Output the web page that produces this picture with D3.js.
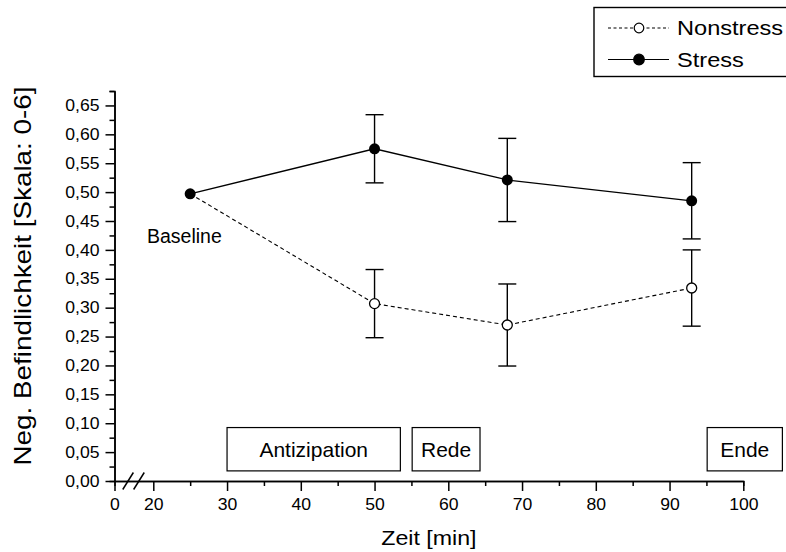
<!DOCTYPE html>
<html>
<head>
<meta charset="utf-8">
<script src="https://cdn.jsdelivr.net/npm/d3@7"></script>
<style>
  body { margin: 0; background: #fff; }
  svg { display: block; font-family: "Liberation Sans", Arial, sans-serif; }
</style>
</head>
<body>
<div id="chart"></div>
<script>
// Zeitpunkte (min) und Mittelwerte mit Standardfehler
const times = [25, 50, 68, 93];
const stressMean = [0.497, 0.575, 0.521, 0.485];
const stressErr = [0, 0.059, 0.072, 0.066];
const nonstressMean = [0.497, 0.307, 0.270, 0.334];
const nonstressErr = [0, 0.059, 0.071, 0.066];

const xMajorTicks = [0, 20, 30, 40, 50, 60, 70, 80, 90, 100];
const xMinorTicks = [25, 35, 45, 55, 65, 75, 85, 95];
const yMajorTicks = [0, 0.05, 0.1, 0.15, 0.2, 0.25, 0.3, 0.35, 0.4, 0.45, 0.5, 0.55, 0.6, 0.65];
const yMinorTicks = [0.025, 0.075, 0.125, 0.175, 0.225, 0.275, 0.325, 0.375, 0.425, 0.475, 0.525, 0.575, 0.625, 0.675];

// Phasen-Kästen (in Minuten)
const phaseNames = ["Antizipation", "Rede", "Ende"];
const phaseStart = [30, 55.1, 95.1];
const phaseEnd = [53.5, 64.3, 105.3];

const width = 786, height = 552;
const plotLeft = 114.5, plotRight = 743.3, plotTop = 91, plotBottom = 481;

const svg = d3.select("#chart").append("svg")
  .attr("width", width)
  .attr("height", height);

svg.append("rect").attr("width", width).attr("height", height).attr("fill", "#fff");

// broken axis: 0..20 squeezed into a short segment
const x = d3.scaleLinear().domain([0, 20, 100]).range([plotLeft, plotLeft + 38.8, plotRight]);
const y = d3.scaleLinear().domain([0, 0.675]).range([plotBottom, plotTop]);

const de = d3.formatLocale({ decimal: ",", thousands: ".", grouping: [3], currency: ["", " €"] });
const fmt = de.format(".2f");

function addText(parent, px, py, str, size, sx, anchor) {
  return parent.append("text")
    .attr("transform", `translate(${px},${py}) scale(${sx},1)`)
    .attr("font-size", size)
    .attr("text-anchor", anchor || "start")
    .attr("fill", "#000")
    .text(str);
}

function styleAxis(g) {
  g.select(".domain").attr("stroke", "#000").attr("stroke-width", 1.5);
  g.selectAll(".tick line").attr("stroke", "#000").attr("stroke-width", 1.5);
}

// y axis
const yMinor = svg.append("g")
  .attr("transform", `translate(${plotLeft},0)`)
  .call(d3.axisLeft(y).tickValues(yMinorTicks).tickSize(5).tickFormat(""));
styleAxis(yMinor);

const yAxis = svg.append("g")
  .attr("transform", `translate(${plotLeft},0)`)
  .call(d3.axisLeft(y).tickValues(yMajorTicks).tickSize(9).tickSizeOuter(0).tickFormat(fmt));
styleAxis(yAxis);
yAxis.selectAll(".tick text")
  .attr("font-size", 16)
  .attr("font-family", "Liberation Sans, Arial, sans-serif")
  .attr("fill", "#000")
  .attr("x", -15 / 1.1)
  .attr("transform", "scale(1.1,1)");

// x axis
const xMinor = svg.append("g")
  .attr("transform", `translate(0,${plotBottom})`)
  .call(d3.axisBottom(x).tickValues(xMinorTicks).tickSize(5).tickFormat(""));
styleAxis(xMinor);

const xAxis = svg.append("g")
  .attr("transform", `translate(0,${plotBottom})`)
  .call(d3.axisBottom(x).tickValues(xMajorTicks).tickSize(10).tickSizeOuter(0).tickFormat(d3.format("d")));
styleAxis(xAxis);
xAxis.selectAll(".tick text")
  .attr("font-size", 16)
  .attr("font-family", "Liberation Sans, Arial, sans-serif")
  .attr("fill", "#000")
  .attr("y", 17.5)
  .attr("transform", "scale(1.1,1)");

// axis break marks
const breakX = [x(7), x(12.6)];
svg.selectAll(".break")
  .data(breakX)
  .join("line")
  .attr("class", "break")
  .attr("x1", (d) => d - 5.3)
  .attr("y1", plotBottom + 8.5)
  .attr("x2", (d) => d + 5.3)
  .attr("y2", plotBottom - 8.5)
  .attr("stroke", "#000")
  .attr("stroke-width", 1.5);

// axis titles
addText(svg, (plotLeft + plotRight) / 2, 545, "Zeit [min]", 20, 1.16, "middle");
svg.append("text")
  .attr("transform", `translate(31,276) rotate(-90) scale(1.16,1)`)
  .attr("font-size", 24)
  .attr("text-anchor", "middle")
  .attr("fill", "#000")
  .text("Neg. Befindlichkeit [Skala: 0-6]");

// phase boxes
const phaseLow = 0.0175, phaseHigh = 0.0925;
const phases = phaseNames.map((name, i) => ({ name, start: phaseStart[i], end: phaseEnd[i] }));
const phaseG = svg.selectAll(".phase")
  .data(phases)
  .join("g")
  .attr("class", "phase");
phaseG.append("rect")
  .attr("x", (d) => x(d.start))
  .attr("y", y(phaseHigh))
  .attr("width", (d) => x(d.end) - x(d.start))
  .attr("height", y(phaseLow) - y(phaseHigh))
  .attr("fill", "#fff")
  .attr("stroke", "#000")
  .attr("stroke-width", 1.2);
phaseG.each(function (d) {
  addText(d3.select(this), (x(d.start) + x(d.end)) / 2, (y(phaseLow) + y(phaseHigh)) / 2 + 7.3, d.name, 20, 1.05, "middle");
});

// Baseline label
addText(svg, 147, 243, "Baseline", 19.5, 1.0, "start");

// series
const stress = times.map((t, i) => ({ t, v: stressMean[i], e: stressErr[i] }));
const nonstress = times.map((t, i) => ({ t, v: nonstressMean[i], e: nonstressErr[i] }));

const line = d3.line().x((d) => x(d.t)).y((d) => y(d.v));

function errorBars(data, cls) {
  const eb = svg.selectAll("." + cls)
    .data(data.filter((d) => d.e > 0))
    .join("g")
    .attr("class", cls)
    .attr("stroke", "#000")
    .attr("stroke-width", 1.4);
  eb.append("line")
    .attr("x1", (d) => x(d.t)).attr("x2", (d) => x(d.t))
    .attr("y1", (d) => y(d.v - d.e)).attr("y2", (d) => y(d.v + d.e));
  eb.append("line")
    .attr("x1", (d) => x(d.t) - 9).attr("x2", (d) => x(d.t) + 9)
    .attr("y1", (d) => y(d.v + d.e)).attr("y2", (d) => y(d.v + d.e));
  eb.append("line")
    .attr("x1", (d) => x(d.t) - 9).attr("x2", (d) => x(d.t) + 9)
    .attr("y1", (d) => y(d.v - d.e)).attr("y2", (d) => y(d.v - d.e));
}
errorBars(stress, "err-stress");
errorBars(nonstress, "err-nonstress");

svg.append("path")
  .datum(nonstress)
  .attr("fill", "none")
  .attr("stroke", "#000")
  .attr("stroke-width", 1.1)
  .attr("stroke-dasharray", "4,3")
  .attr("d", line);

svg.append("path")
  .datum(stress)
  .attr("fill", "none")
  .attr("stroke", "#000")
  .attr("stroke-width", 1.3)
  .attr("d", line);

svg.selectAll(".pt-nonstress")
  .data(nonstress.slice(1))
  .join("circle")
  .attr("class", "pt-nonstress")
  .attr("cx", (d) => x(d.t))
  .attr("cy", (d) => y(d.v))
  .attr("r", 5)
  .attr("fill", "#fff")
  .attr("stroke", "#000")
  .attr("stroke-width", 1.3);

svg.selectAll(".pt-stress")
  .data(stress)
  .join("circle")
  .attr("class", "pt-stress")
  .attr("cx", (d) => x(d.t))
  .attr("cy", (d) => y(d.v))
  .attr("r", 5.5)
  .attr("fill", "#000");

// legend
const legend = svg.append("g");
legend.append("rect")
  .attr("x", 594)
  .attr("y", 7.5)
  .attr("width", 220)
  .attr("height", 69)
  .attr("fill", "#fff")
  .attr("stroke", "#000")
  .attr("stroke-width", 1.4);

const legendItems = [
  { name: "Nonstress", dash: "3,2.5", fill: "#fff", yy: 28 },
  { name: "Stress", dash: null, fill: "#000", yy: 59.5 }
];
legendItems.forEach((it) => {
  legend.append("line")
    .attr("x1", 608).attr("x2", 669)
    .attr("y1", it.yy).attr("y2", it.yy)
    .attr("stroke", "#000")
    .attr("stroke-width", 1.2)
    .attr("stroke-dasharray", it.dash);
  legend.append("circle")
    .attr("cx", 639).attr("cy", it.yy)
    .attr("r", it.fill === "#000" ? 5.3 : 4.8)
    .attr("fill", it.fill)
    .attr("stroke", "#000")
    .attr("stroke-width", 1.2);
  addText(legend, 677, it.yy + 7.2, it.name, 20, 1.18, "start");
});
</script>
</body>
</html>
